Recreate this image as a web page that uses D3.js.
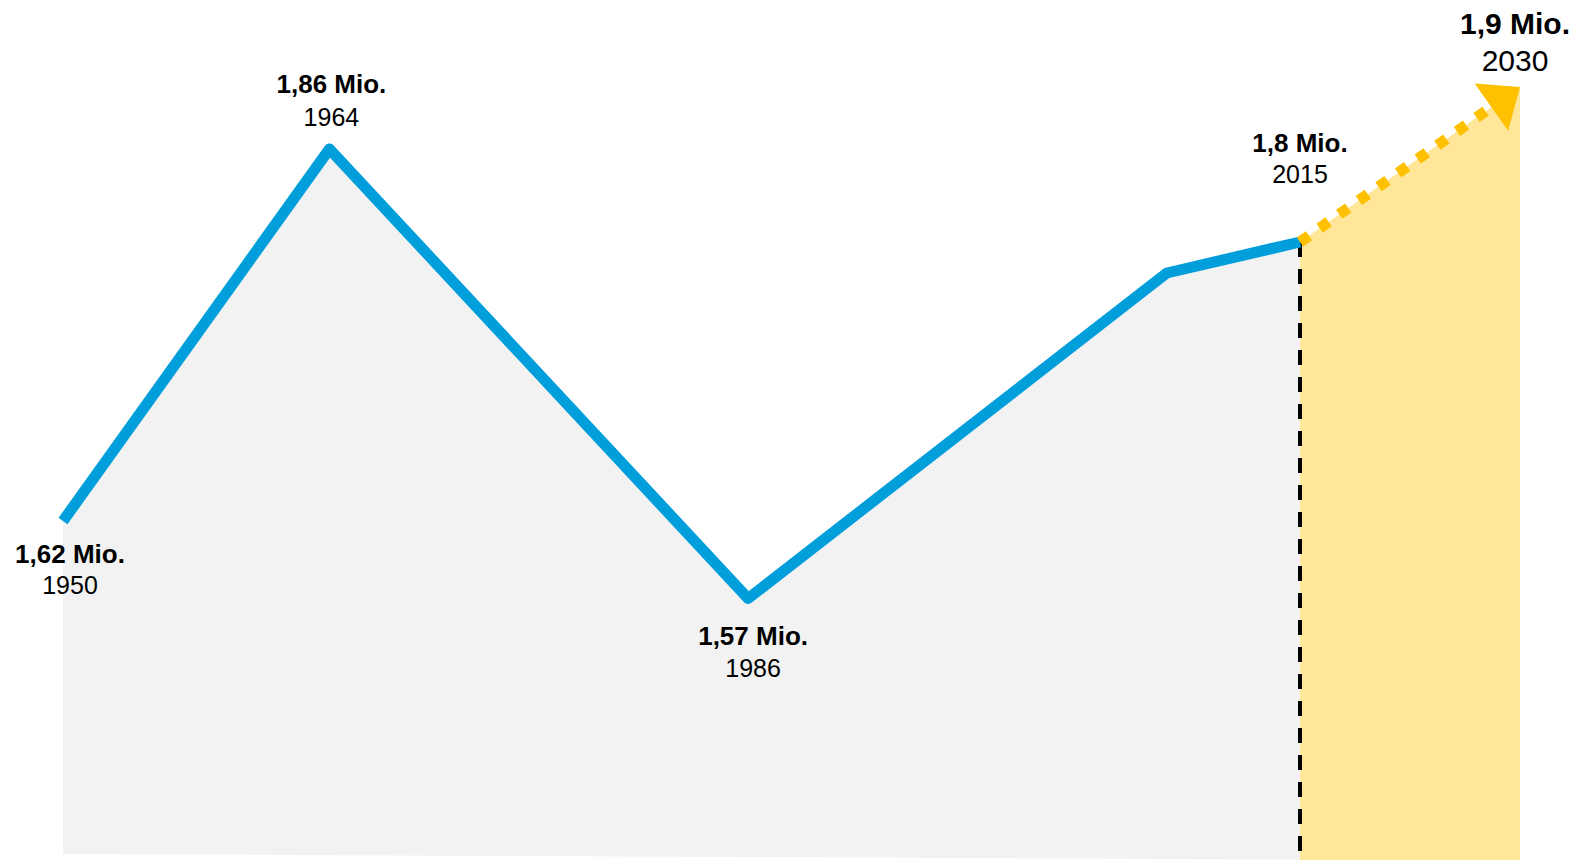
<!DOCTYPE html>
<html>
<head>
<meta charset="utf-8">
<script src="https://cdn.jsdelivr.net/npm/d3@7"></script>
<style>
  html, body { margin: 0; padding: 0; background: #fff; overflow: hidden; }
  svg { display: block; }
  text { font-family: "Liberation Sans", Arial, sans-serif; fill: #000; }
</style>
</head>
<body>
<svg id="chart" width="1580" height="860"></svg>
<script>
// Population (in millions) – recorded values
const years = [1950, 1964, 1986, 2008, 2015];
const population = [1.62, 1.86, 1.57, 1.78, 1.80];

// Forecast segment
const forecastYears = [2015, 2030];
const forecastPopulation = [1.80, 1.90];

// Years that carry a value label
const labelledYears = [1950, 1964, 1986, 2015, 2030];

const W = 1580, H = 860;
const svg = d3.select("#chart");

// Forecast years are drawn on a compressed stretch at the right
const x = d3.scaleLinear().domain([1950, 2015, 2030]).range([63, 1300, 1520]);
const y = d3.scaleLinear().domain([1.5, 2.0]).range([707, -68]);
// slightly tilted floor of the grey area
const floor = d3.scaleLinear().domain([1950, 2015]).range([854, 859.5]);

const hist = years.map((yr, i) => ({ year: yr, value: population[i] }));
const fc = forecastYears.map((yr, i) => ({ year: yr, value: forecastPopulation[i] }));
const all = hist.concat(fc.slice(1));

// grey area under the recorded line
svg.append("path")
  .datum(hist)
  .attr("fill", "#F2F2F2")
  .attr("d", d3.area()
    .x(d => x(d.year))
    .y0(d => floor(d.year))
    .y1(d => y(d.value)));

// yellow forecast area
svg.append("path")
  .datum(fc)
  .attr("fill", "#FFE699")
  .attr("d", d3.area()
    .x(d => x(d.year))
    .y0(H)
    .y1(d => y(d.value)));

// dashed divider at the last recorded year
const last = hist[hist.length - 1];
svg.append("line")
  .attr("x1", x(last.year)).attr("x2", x(last.year))
  .attr("y1", y(last.value)).attr("y2", H)
  .attr("stroke", "#000")
  .attr("stroke-width", 4)
  .attr("stroke-dasharray", "15,12");

// recorded line
svg.append("path")
  .datum(hist)
  .attr("fill", "none")
  .attr("stroke", "#009FDB")
  .attr("stroke-width", 11)
  .attr("stroke-linejoin", "round")
  .attr("stroke-linecap", "butt")
  .attr("d", d3.line().x(d => x(d.year)).y(d => y(d.value)));

// forecast: dotted line ending in an arrow head
const p0 = [x(fc[0].year), y(fc[0].value)];
const p1 = [x(fc[1].year), y(fc[1].value)];
const len = Math.hypot(p1[0] - p0[0], p1[1] - p0[1]);
const u = [(p1[0] - p0[0]) / len, (p1[1] - p0[1]) / len];
const n = [-u[1], u[0]];
const headLen = 35, headHalf = 29;
const base = [p1[0] - u[0] * headLen, p1[1] - u[1] * headLen];

svg.append("line")
  .attr("x1", p0[0]).attr("y1", p0[1])
  .attr("x2", base[0] + u[0] * 2).attr("y2", base[1] + u[1] * 2)
  .attr("stroke", "#FFC000")
  .attr("stroke-width", 11)
  .attr("stroke-dasharray", "11,13");

svg.append("path")
  .attr("fill", "#FFC000")
  .attr("d", d3.line()([
    p1,
    [base[0] + n[0] * headHalf, base[1] + n[1] * headHalf],
    [base[0] - n[0] * headHalf, base[1] - n[1] * headHalf]
  ]) + "Z");

// value labels
const fmt = v => String(v).replace(".", ",") + " Mio.";
const labelLayout = {
  1950: { dx: 7,  dy: 42,  gap: 31, big: 26, small: 25 },
  1964: { dx: 2,  dy: -56, gap: 33, big: 26, small: 25 },
  1986: { dx: 5,  dy: 46,  gap: 32, big: 26, small: 25 },
  2015: { dx: 0,  dy: -90, gap: 31, big: 26, small: 25 },
  2030: { dx: -5, dy: -53, gap: 37, big: 30, small: 30 }
};

const labelData = all.filter(d => labelledYears.includes(d.year));
const g = svg.append("g").attr("text-anchor", "middle");
labelData.forEach(d => {
  const L = labelLayout[d.year];
  const cx = x(d.year) + L.dx;
  const by = y(d.value) + L.dy;
  g.append("text")
    .attr("x", cx).attr("y", by)
    .attr("font-size", L.big)
    .attr("font-weight", "bold")
    .text(fmt(d.value));
  g.append("text")
    .attr("x", cx).attr("y", by + L.gap)
    .attr("font-size", L.small)
    .text(d.year);
});
</script>
</body>
</html>
